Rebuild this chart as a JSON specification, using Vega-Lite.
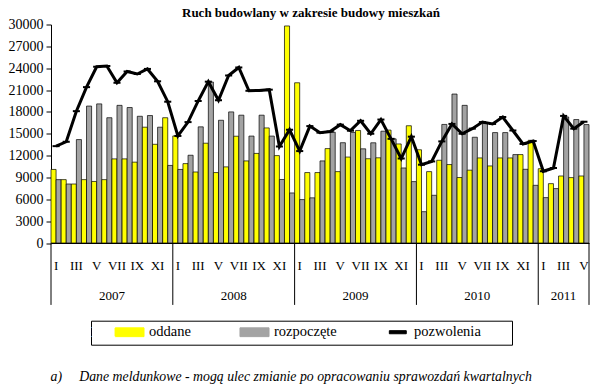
{
  "$schema": "https://vega.github.io/schema/vega-lite/v6.json",
  "width": 538,
  "height": 218.5,
  "autosize": {"type": "none"},
  "padding": {"left": 51, "top": 24.5, "right": 11, "bottom": 149},
  "background": "white",
  "title": {
    "text": "Ruch budowlany w zakresie budowy mieszkań",
    "font": "Liberation Serif",
    "fontSize": 13,
    "fontWeight": "bold",
    "color": "black",
    "anchor": "middle",
    "dx": -9,
    "dy": 17,
    "baseline": "alphabetic",
    "offset": 5
  },
  "config": {
    "view": {"stroke": null},
    "font": "Liberation Serif",
    "axisY": {"labelOverlap": false, "labelFlush": false, "labelFont": "Liberation Serif", "labelFontSize": 14, "labelColor": "black", "labelPadding": 3, "tickColor": "black", "tickSize": 5, "domainColor": "black", "grid": false, "title": null, "format": "d"}
  },
  "data": {
    "values": [
      {"d": "2007-01", "rok": 2007, "m": 1, "oddane": 10100, "rozpoczete": 8700, "pozwolenia": 13300},
      {"d": "2007-02", "rok": 2007, "m": 2, "oddane": 8700, "rozpoczete": 8100, "pozwolenia": 13900},
      {"d": "2007-03", "rok": 2007, "m": 3, "oddane": 8100, "rozpoczete": 14200, "pozwolenia": 18100},
      {"d": "2007-04", "rok": 2007, "m": 4, "oddane": 8700, "rozpoczete": 18800, "pozwolenia": 21400},
      {"d": "2007-05", "rok": 2007, "m": 5, "oddane": 8450, "rozpoczete": 19100, "pozwolenia": 24200},
      {"d": "2007-06", "rok": 2007, "m": 6, "oddane": 8700, "rozpoczete": 17200, "pozwolenia": 24300},
      {"d": "2007-07", "rok": 2007, "m": 7, "oddane": 11550, "rozpoczete": 18900, "pozwolenia": 22000},
      {"d": "2007-08", "rok": 2007, "m": 8, "oddane": 11550, "rozpoczete": 18600, "pozwolenia": 23550},
      {"d": "2007-09", "rok": 2007, "m": 9, "oddane": 11100, "rozpoczete": 17400, "pozwolenia": 23200},
      {"d": "2007-10", "rok": 2007, "m": 10, "oddane": 15900, "rozpoczete": 17500, "pozwolenia": 23900},
      {"d": "2007-11", "rok": 2007, "m": 11, "oddane": 13550, "rozpoczete": 15900, "pozwolenia": 22200},
      {"d": "2007-12", "rok": 2007, "m": 12, "oddane": 17200, "rozpoczete": 10650, "pozwolenia": 19400},
      {"d": "2008-01", "rok": 2008, "m": 1, "oddane": 14700, "rozpoczete": 10100, "pozwolenia": 14700},
      {"d": "2008-02", "rok": 2008, "m": 2, "oddane": 10900, "rozpoczete": 12050, "pozwolenia": 16600},
      {"d": "2008-03", "rok": 2008, "m": 3, "oddane": 9750, "rozpoczete": 15950, "pozwolenia": 19500},
      {"d": "2008-04", "rok": 2008, "m": 4, "oddane": 13700, "rozpoczete": 22100, "pozwolenia": 22150},
      {"d": "2008-05", "rok": 2008, "m": 5, "oddane": 9670, "rozpoczete": 16850, "pozwolenia": 19600},
      {"d": "2008-06", "rok": 2008, "m": 6, "oddane": 10450, "rozpoczete": 18000, "pozwolenia": 23000},
      {"d": "2008-07", "rok": 2008, "m": 7, "oddane": 14660, "rozpoczete": 17550, "pozwolenia": 24100},
      {"d": "2008-08", "rok": 2008, "m": 8, "oddane": 11270, "rozpoczete": 14680, "pozwolenia": 20900},
      {"d": "2008-09", "rok": 2008, "m": 9, "oddane": 12300, "rozpoczete": 17550, "pozwolenia": 20950},
      {"d": "2008-10", "rok": 2008, "m": 10, "oddane": 15800, "rozpoczete": 14680, "pozwolenia": 21050},
      {"d": "2008-11", "rok": 2008, "m": 11, "oddane": 12000, "rozpoczete": 8720, "pozwolenia": 13250},
      {"d": "2008-12", "rok": 2008, "m": 12, "oddane": 29800, "rozpoczete": 6870, "pozwolenia": 15550},
      {"d": "2009-01", "rok": 2009, "m": 1, "oddane": 22000, "rozpoczete": 5960, "pozwolenia": 12620},
      {"d": "2009-02", "rok": 2009, "m": 2, "oddane": 9670, "rozpoczete": 6200, "pozwolenia": 16050},
      {"d": "2009-03", "rok": 2009, "m": 3, "oddane": 9670, "rozpoczete": 11270, "pozwolenia": 15150},
      {"d": "2009-04", "rok": 2009, "m": 4, "oddane": 12960, "rozpoczete": 15220, "pozwolenia": 15300},
      {"d": "2009-05", "rok": 2009, "m": 5, "oddane": 9800, "rozpoczete": 13770, "pozwolenia": 16250},
      {"d": "2009-06", "rok": 2009, "m": 6, "oddane": 11800, "rozpoczete": 15180, "pozwolenia": 15420},
      {"d": "2009-07", "rok": 2009, "m": 7, "oddane": 15450, "rozpoczete": 12930, "pozwolenia": 16780},
      {"d": "2009-08", "rok": 2009, "m": 8, "oddane": 11570, "rozpoczete": 13760, "pozwolenia": 15000},
      {"d": "2009-09", "rok": 2009, "m": 9, "oddane": 11700, "rozpoczete": 15350, "pozwolenia": 16950},
      {"d": "2009-10", "rok": 2009, "m": 10, "oddane": 15500, "rozpoczete": 14300, "pozwolenia": 14300},
      {"d": "2009-11", "rok": 2009, "m": 11, "oddane": 13600, "rozpoczete": 10300, "pozwolenia": 11600},
      {"d": "2009-12", "rok": 2009, "m": 12, "oddane": 16100, "rozpoczete": 8430, "pozwolenia": 14600},
      {"d": "2010-01", "rok": 2010, "m": 1, "oddane": 12800, "rozpoczete": 4300, "pozwolenia": 10750},
      {"d": "2010-02", "rok": 2010, "m": 2, "oddane": 9800, "rozpoczete": 6550, "pozwolenia": 11200},
      {"d": "2010-03", "rok": 2010, "m": 3, "oddane": 11360, "rozpoczete": 16280, "pozwolenia": 13950},
      {"d": "2010-04", "rok": 2010, "m": 4, "oddane": 10770, "rozpoczete": 20450, "pozwolenia": 16350},
      {"d": "2010-05", "rok": 2010, "m": 5, "oddane": 8990, "rozpoczete": 18900, "pozwolenia": 15000},
      {"d": "2010-06", "rok": 2010, "m": 6, "oddane": 10000, "rozpoczete": 14520, "pozwolenia": 15700},
      {"d": "2010-07", "rok": 2010, "m": 7, "oddane": 11680, "rozpoczete": 16400, "pozwolenia": 16600},
      {"d": "2010-08", "rok": 2010, "m": 8, "oddane": 10580, "rozpoczete": 15160, "pozwolenia": 16350},
      {"d": "2010-09", "rok": 2010, "m": 9, "oddane": 11680, "rozpoczete": 15160, "pozwolenia": 17300},
      {"d": "2010-10", "rok": 2010, "m": 10, "oddane": 11680, "rozpoczete": 12140, "pozwolenia": 15450},
      {"d": "2010-11", "rok": 2010, "m": 11, "oddane": 12140, "rozpoczete": 10120, "pozwolenia": 13600},
      {"d": "2010-12", "rok": 2010, "m": 12, "oddane": 14100, "rozpoczete": 7920, "pozwolenia": 14000},
      {"d": "2011-01", "rok": 2011, "m": 1, "oddane": 10200, "rozpoczete": 6230, "pozwolenia": 9850},
      {"d": "2011-02", "rok": 2011, "m": 2, "oddane": 8150, "rozpoczete": 7470, "pozwolenia": 10300},
      {"d": "2011-03", "rok": 2011, "m": 3, "oddane": 9200, "rozpoczete": 17300, "pozwolenia": 17450},
      {"d": "2011-04", "rok": 2011, "m": 4, "oddane": 8980, "rozpoczete": 16950, "pozwolenia": 15700},
      {"d": "2011-05", "rok": 2011, "m": 5, "oddane": 9200, "rozpoczete": 16260, "pozwolenia": 16650}
    ]
  },
  "layer": [
    {
      "transform": [{"fold": ["oddane", "rozpoczete"], "as": ["seria", "wartosc"]}],
      "mark": {"type": "bar", "stroke": "black", "strokeWidth": 0.7},
      "encoding": {
        "x": {
          "field": "d",
          "type": "ordinal",
          "scale": {"paddingInner": 0, "paddingOuter": 0},
          "axis": {
            "title": "a)\u00a0\u00a0\u00a0\u00a0\u00a0Dane meldunkowe - mogą ulec zmianie po opracowaniu sprawozdań kwartalnych",
            "titleFont": "Liberation Serif",
            "titleFontStyle": "italic",
            "titleFontWeight": "normal",
            "titleFontSize": 13.8,
            "titleColor": "black",
            "titleAnchor": "start",
            "titleAlign": "left",
            "titleBaseline": "alphabetic",
            "titleX": -1,
            "titleY": 137,
            "labelExpr": "toNumber(slice(datum.value, 5)) % 2 == 1 ? ['I','II','III','IV','V','VI','VII','VIII','IX','X','XI','XII'][toNumber(slice(datum.value, 5)) - 1] : ''",
            "labelAngle": 0,
            "labelFont": "Liberation Serif",
            "labelFontSize": 13,
            "labelColor": "black",
            "labelBaseline": "middle",
            "labelPadding": 22,
            "labelOverlap": false,
            "ticks": false,
            "tickSize": 0,
            "domainColor": "black",
            "domainWidth": 1
          }
        },
        "xOffset": {"field": "seria", "type": "nominal", "sort": ["oddane", "rozpoczete"], "scale": {"paddingInner": 0, "paddingOuter": 0}},
        "y": {
          "field": "wartosc",
          "type": "quantitative",
          "scale": {"domain": [0, 30000], "nice": false, "zero": true},
          "axis": {"values": [0, 3000, 6000, 9000, 12000, 15000, 18000, 21000, 24000, 27000, 30000], "labelOverlap": false, "format": "d", "title": null}
        },
        "color": {
          "field": "seria",
          "type": "nominal",
          "scale": {"domain": ["oddane", "rozpoczete", "pozwolenia"], "range": ["#ffff00", "#a3a3a3", "#000000"]},
          "legend": {
            "orient": "none",
            "legendX": 40,
            "legendY": 296.2,
            "direction": "horizontal",
            "title": "MM",
            "titleOrient": "left",
            "titleColor": "white",
            "titleFont": "Liberation Serif",
            "titleFontSize": 14,
            "titleFontWeight": "normal",
            "titlePadding": 2,
            "padding": 0,
            "strokeColor": "black",
            "fillColor": "white",
            "columnPadding": 46,
            "symbolSize": 484,
            "symbolType": {"expr": "datum.value == 'pozwolenia' ? 'M10.5,0M0,-0.95M0,0.95M-0.47,-0.14H1.07V0.14H-0.47Z' : 'M0,-0.95M0,0.95M-1.32,-0.4H1.32V0.4H-1.32Z'"},
            "symbolStrokeWidth": 1,
            "symbolStrokeColor": "black",
            "labelOffset": 8,
            "labelFont": "Liberation Serif",
            "labelFontSize": 14.5,
            "labelColor": "black",
            "labelExpr": "datum.label == 'rozpoczete' ? 'rozpoczęte' : datum.label"
          }
        }
      }
    },
    {
      "mark": {"type": "line", "strokeWidth": 3},
      "encoding": {
        "x": {"field": "d", "type": "ordinal"},
        "y": {"field": "pozwolenia", "type": "quantitative", "axis": {"values": [0, 3000, 6000, 9000, 12000, 15000, 18000, 21000, 24000, 27000, 30000], "labelOverlap": false, "format": "d", "title": null}},
        "color": {"datum": "pozwolenia", "legend": null}
      }
    },
    {
      "mark": {"type": "point", "shape": "stroke", "size": 50, "strokeWidth": 2, "color": "black", "filled": false, "opacity": 1},
      "encoding": {
        "x": {"field": "d", "type": "ordinal"},
        "y": {"field": "pozwolenia", "type": "quantitative", "axis": {"values": [0, 3000, 6000, 9000, 12000, 15000, 18000, 21000, 24000, 27000, 30000], "labelOverlap": false, "format": "d", "title": null}}
      }
    },
    {
      "transform": [{"filter": "datum.m == 1"}],
      "mark": {"type": "rule", "color": "black", "strokeWidth": 1},
      "encoding": {
        "x": {"field": "d", "type": "ordinal", "bandPosition": 0},
        "y": {"datum": 0, "axis": {"values": [0, 3000, 6000, 9000, 12000, 15000, 18000, 21000, 24000, 27000, 30000], "labelOverlap": false, "format": "d", "title": null}},
        "y2": {"datum": -8500}
      }
    },
    {
      "transform": [{"filter": "datum.d == '2011-05'"}],
      "mark": {"type": "rule", "color": "black", "strokeWidth": 1},
      "encoding": {
        "x": {"field": "d", "type": "ordinal", "bandPosition": 1},
        "y": {"datum": 0, "axis": {"values": [0, 3000, 6000, 9000, 12000, 15000, 18000, 21000, 24000, 27000, 30000], "labelOverlap": false, "format": "d", "title": null}},
        "y2": {"datum": -8500}
      }
    },
    {
      "transform": [{"filter": "datum.m == 7"}],
      "mark": {"type": "text", "font": "Liberation Serif", "fontSize": 13, "color": "black", "baseline": "middle"},
      "encoding": {
        "x": {"field": "d", "type": "ordinal", "bandPosition": 0},
        "y": {"datum": -7300, "axis": {"values": [0, 3000, 6000, 9000, 12000, 15000, 18000, 21000, 24000, 27000, 30000], "labelOverlap": false, "format": "d", "title": null}},
        "text": {"field": "rok"}
      }
    },
    {
      "transform": [{"filter": "datum.d == '2011-03'"}],
      "mark": {"type": "text", "font": "Liberation Serif", "fontSize": 13, "color": "black", "baseline": "middle"},
      "encoding": {
        "x": {"field": "d", "type": "ordinal", "bandPosition": 0.5},
        "y": {"datum": -7300, "axis": {"values": [0, 3000, 6000, 9000, 12000, 15000, 18000, 21000, 24000, 27000, 30000], "labelOverlap": false, "format": "d", "title": null}},
        "text": {"field": "rok"}
      }
    }
  ]
}
